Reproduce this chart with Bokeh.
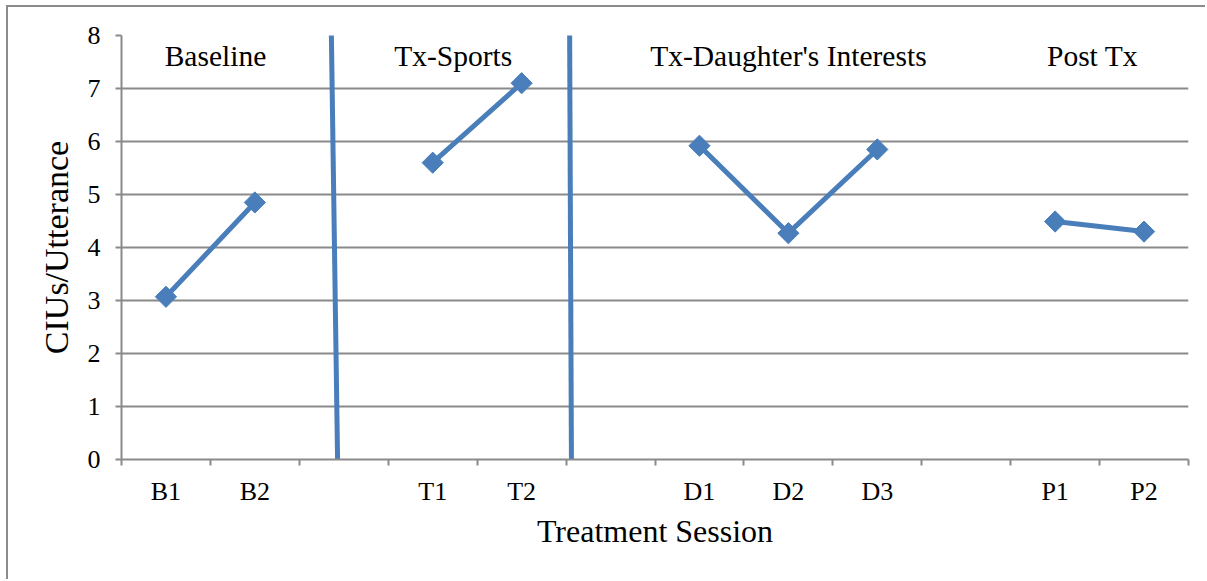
import math
from bokeh.plotting import figure
from bokeh.models import Range1d, FixedTicker, ColumnDataSource
from bokeh.core.properties import value
from bokeh.embed import file_html
from bokeh.resources import INLINE

# ---- data ----
categories = ["B1", "B2", "", "T1", "T2", "", "D1", "D2", "D3", "", "P1", "P2"]
cius = [3.07, 4.85, None, 5.60, 7.10, None, 5.92, 4.27, 5.85, None, 4.49, 4.30]
phase_labels = ["Baseline", "Tx-Sports", "Tx-Daughter's Interests", "Post Tx"]
y_ticks = [0, 1, 2, 3, 4, 5, 6, 7, 8]

BLUE = "#4A7EBB"
GRAY = "#8a8a8a"
FONT = "Liberation Serif"

n = len(categories)
xs = [i + 0.5 for i in range(n)]
ys = [float("nan") if v is None else v for v in cius]

p = figure(width=1199, height=574, output_backend="svg", toolbar_location=None,
           x_range=Range1d(0, n), y_range=Range1d(0, 8),
           min_border_left=113, min_border_right=19, min_border_top=28, min_border_bottom=122)
p.styles = {"margin-left": "6px", "margin-top": "5px",
            "border-left": "2px solid #8c8c8c", "border-top": "2px solid #8c8c8c"}
p.outline_line_color = None
p.background_fill_color = "white"
p.border_fill_color = "white"

# x axis
p.xaxis.ticker = FixedTicker(ticks=xs, minor_ticks=list(range(n + 1)))
p.xaxis.major_label_overrides = {x: c for x, c in zip(xs, categories)}
p.xaxis.major_tick_out = 0
p.xaxis.major_tick_in = 0
p.xaxis.minor_tick_out = 6
p.xaxis.minor_tick_in = 0
p.xaxis.minor_tick_line_color = GRAY
p.xaxis.minor_tick_line_width = 2
p.xaxis.axis_line_color = GRAY
p.xaxis.axis_line_width = 2
p.xaxis.major_label_text_font = FONT
p.xaxis.major_label_text_font_size = "26px"
p.xaxis.major_label_text_color = "black"
p.xaxis.major_label_standoff = 11
p.xaxis.axis_label = "Treatment Session"
p.xaxis.axis_label_text_font = FONT
p.xaxis.axis_label_text_font_size = "32px"
p.xaxis.axis_label_text_font_style = "normal"
p.xaxis.axis_label_text_color = "black"
p.xaxis.axis_label_standoff = 4
p.xgrid.grid_line_color = None

# y axis
p.yaxis.ticker = FixedTicker(ticks=y_ticks, minor_ticks=[])
p.yaxis.major_tick_out = 6
p.yaxis.major_tick_in = 0
p.yaxis.major_tick_line_color = GRAY
p.yaxis.major_tick_line_width = 2
p.yaxis.axis_line_color = GRAY
p.yaxis.axis_line_width = 2
p.yaxis.major_label_text_font = FONT
p.yaxis.major_label_text_font_size = "26px"
p.yaxis.major_label_text_color = "black"
p.yaxis.major_label_standoff = 15
p.yaxis.axis_label = "CIUs/Utterance"
p.yaxis.axis_label_text_font = FONT
p.yaxis.axis_label_text_font_size = "34px"
p.yaxis.axis_label_text_font_style = "normal"
p.yaxis.axis_label_text_color = "black"
p.yaxis.axis_label_standoff = 10
p.ygrid.grid_line_color = GRAY
p.ygrid.grid_line_width = 2

# phase separators (drawn shapes)
p.segment(x0=[2.36, 5.04], y0=[8.05, 8.05], x1=[2.43, 5.06], y1=[0, 0],
          line_color=BLUE, line_width=5)

# data line and markers
src = ColumnDataSource(dict(x=xs, y=ys))
p.line("x", "y", source=src, line_color=BLUE, line_width=5)
p.scatter("x", "y", source=src, marker="square", angle=math.pi / 4, size=15,
          fill_color=BLUE, line_color=BLUE)

# phase labels
p.text(x=[1.057, 3.73, 7.50, 10.92], y=[7.62] * 4, text=phase_labels,
       text_font=value(FONT), text_font_size="29.5px", text_align="center",
       text_baseline="middle", text_color="black")

open("out.html", "w").write(file_html(p, INLINE))
